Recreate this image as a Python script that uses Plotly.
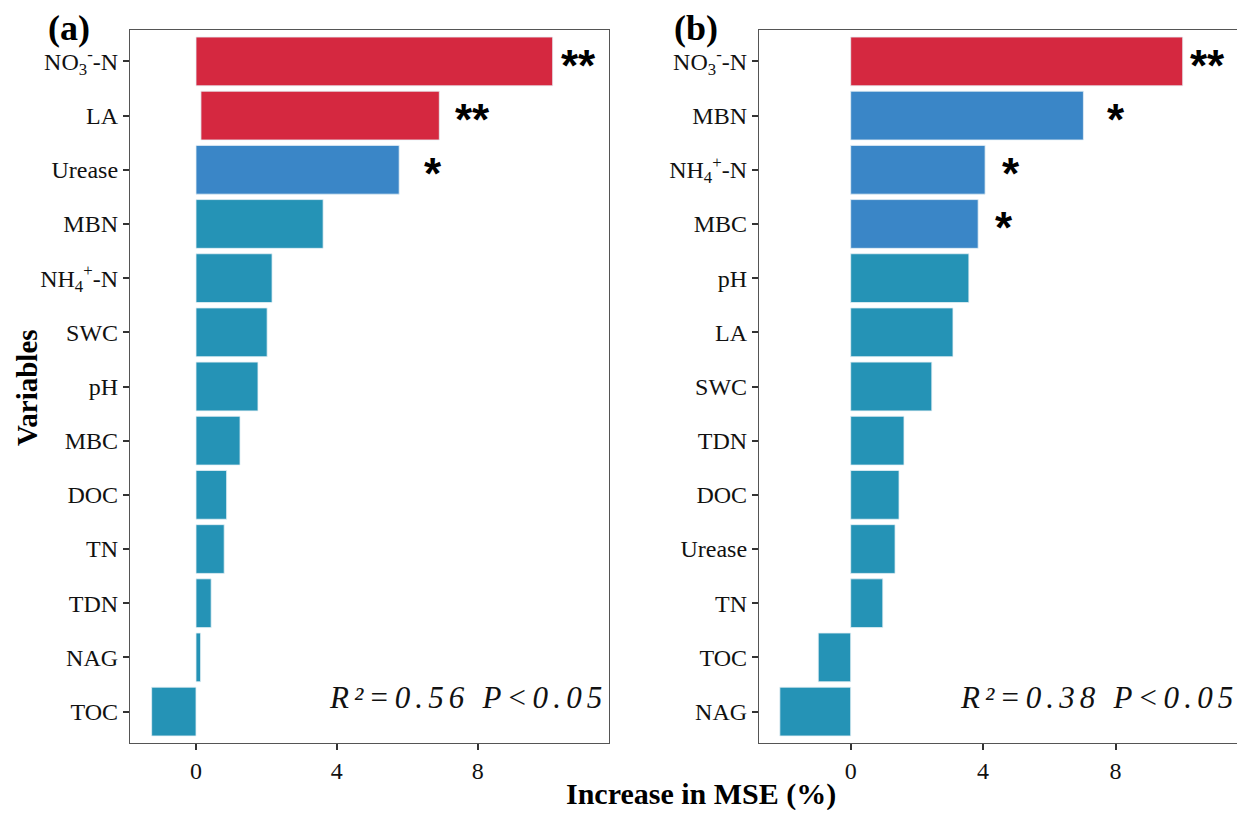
import plotly.graph_objects as go

# ---------------- data ----------------
vars_a = ["NO<sub>3</sub><sup>-</sup>-N", "LA", "Urease", "MBN", "NH<sub>4</sub><sup>+</sup>-N", "SWC", "pH",
          "MBC", "DOC", "TN", "TDN", "NAG", "TOC"]
vals_a = [10.13, 6.91, 5.77, 3.61, 2.16, 2.02, 1.76, 1.25, 0.87, 0.80, 0.43, 0.13, -1.26]
base_a = [0, 0.14, 0, 0, 0, 0, 0, 0, 0, 0, 0, 0, 0]
grp_a = ["r", "r", "b", "t", "t", "t", "t", "t", "t", "t", "t", "t", "t"]
stars_a = ["**", "**", "*"]
stars_a_x = [10.31, 7.31, 6.43]

vars_b = ["NO<sub>3</sub><sup>-</sup>-N", "MBN", "NH<sub>4</sub><sup>+</sup>-N", "MBC", "pH", "LA", "SWC",
          "TDN", "DOC", "Urease", "TN", "TOC", "NAG"]
vals_b = [10.03, 7.03, 4.06, 3.85, 3.57, 3.09, 2.45, 1.61, 1.46, 1.34, 0.97, -0.98, -2.14]
grp_b = ["r", "b", "b", "b", "t", "t", "t", "t", "t", "t", "t", "t", "t"]
stars_b = ["**", "*", "*", "*"]
stars_b_x = [10.18, 7.68, 4.51, 4.31]

xticks = [0, 4, 8]
r2_a = "R²=0.56 P<0.05"
r2_b = "R²=0.38 P<0.05"

colors = {"r": "#D52840", "b": "#3A86C7", "t": "#2593B6"}
SERIF = "Liberation Serif, Times New Roman, serif"

# page body has an 8px margin: lay out in reference pixels shifted by 8
OFF = 8
W, H = 1245 - 2 * OFF, 818 - 2 * OFF
TOP, BOT = 30, 743          # plot area in reference pixels
PLOT_H = BOT - TOP


def px(xr):
    return (xr - OFF) / W


def py(yr):
    return (BOT - yr) / PLOT_H


fig = go.Figure()


def add_panel(vars_, vals, grp, xa, ya, base=None):
    lens = vals if base is None else [v - b for v, b in zip(vals, base)]
    fig.add_trace(go.Bar(
        y=vars_, x=lens, base=base, orientation="h",
        marker=dict(color=[colors[g] for g in grp], line=dict(color="#e6f0f5", width=0.8)),
        xaxis=xa, yaxis=ya, showlegend=False, width=0.9,
    ))


add_panel(vars_a, vals_a, grp_a, "x", "y", base_a)
add_panel(vars_b, vals_b, grp_b, "x2", "y2")

axis_common = dict(
    showline=True, linecolor="#555555", linewidth=1.3, mirror=True,
    ticks="outside", ticklen=6, tickwidth=2, tickcolor="#333333",
    showgrid=False, zeroline=False,
    tickfont=dict(family=SERIF, size=24, color="#111111"),
)

fig.update_layout(
    width=W, height=H,
    margin=dict(l=0, r=0, t=TOP - OFF, b=H - (BOT - OFF)),
    plot_bgcolor="white", paper_bgcolor="white",
    bargap=0.1,
    xaxis=dict(domain=[px(130), px(609)], range=[-1.875, 11.73], tickvals=xticks, anchor="y", **axis_common),
    yaxis=dict(domain=[0, 1], autorange=False, range=[12.58, -0.58], categoryorder="array",
               categoryarray=vars_a, anchor="x", **axis_common),
    xaxis2=dict(domain=[px(759), px(1237)], range=[-2.77, 11.67], tickvals=xticks, anchor="y2", **axis_common),
    yaxis2=dict(domain=[0, 1], autorange=False, range=[12.58, -0.58], categoryorder="array",
                categoryarray=vars_b, anchor="x2", **axis_common),
)

ann = []
star_font = dict(family="Liberation Sans, Arial", size=44, color="black")
for s, x, cat in zip(stars_a, stars_a_x, vars_a):
    ann.append(dict(x=x, y=cat, xref="x", yref="y", text="<b>" + s + "</b>", showarrow=False,
                    xanchor="left", yanchor="middle", yshift=-4, font=star_font))
for s, x, cat in zip(stars_b, stars_b_x, vars_b):
    ann.append(dict(x=x, y=cat, xref="x2", yref="y2", text="<b>" + s + "</b>", showarrow=False,
                    xanchor="left", yanchor="middle", yshift=-4, font=star_font))


def spaced(t):
    return "\u2006".join(t)


r2_font = dict(family=SERIF, size=31, color="#111111")
ann.append(dict(x=px(604), y=py(697), xref="paper", yref="paper", text="<i>" + spaced(r2_a) + "</i>",
                showarrow=False, xanchor="right", yanchor="middle", font=r2_font))
ann.append(dict(x=px(1235), y=py(697), xref="paper", yref="paper", text="<i>" + spaced(r2_b) + "</i>",
                showarrow=False, xanchor="right", yanchor="middle", font=r2_font))

ann.append(dict(x=px(69), y=py(28), xref="paper", yref="paper", text="<b>(a)</b>",
                showarrow=False, xanchor="center", yanchor="middle",
                font=dict(family=SERIF, size=36, color="black")))
ann.append(dict(x=px(696), y=py(28), xref="paper", yref="paper", text="<b>(b)</b>",
                showarrow=False, xanchor="center", yanchor="middle",
                font=dict(family=SERIF, size=36, color="black")))
ann.append(dict(x=px(27), y=py(388), xref="paper", yref="paper", text="<b>Variables</b>",
                showarrow=False, textangle=-90, xanchor="center", yanchor="middle",
                font=dict(family=SERIF, size=29, color="black")))
ann.append(dict(x=px(701), y=py(794), xref="paper", yref="paper",
                text="<b>Increase in MSE (%)</b>",
                showarrow=False, xanchor="center", yanchor="middle",
                font=dict(family=SERIF, size=30, color="black")))

fig.update_layout(annotations=ann)
fig.write_html("out.html")
